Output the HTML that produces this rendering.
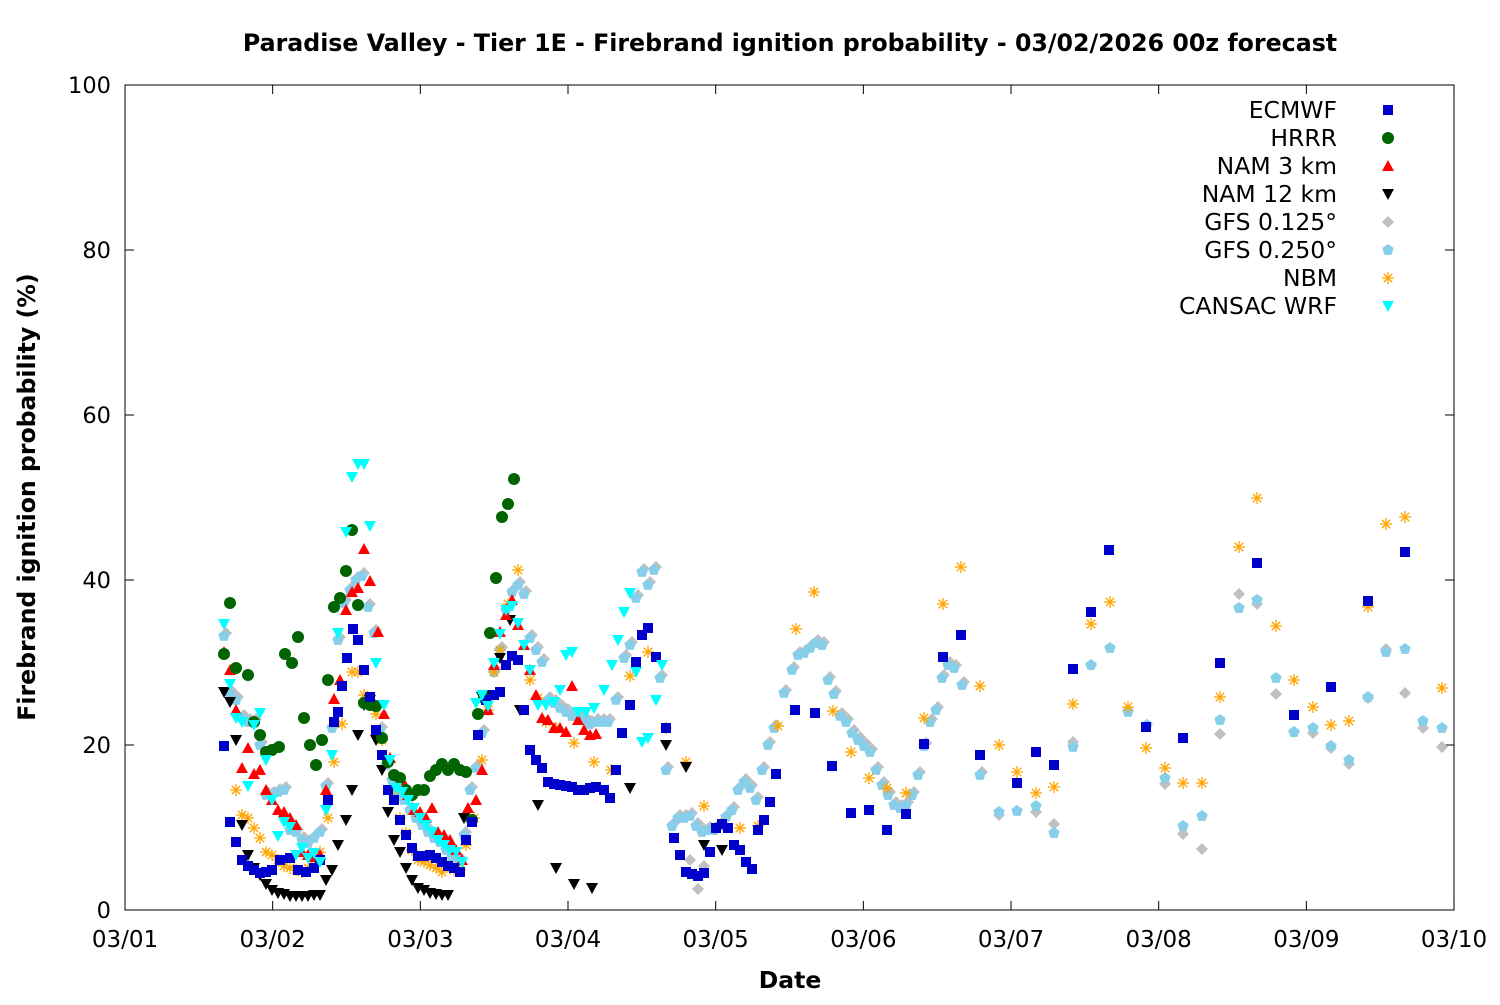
<!DOCTYPE html>
<html><head><meta charset="utf-8"><style>
html,body{margin:0;padding:0;background:#fff;}
svg text{font-family:"DejaVu Sans","Liberation Sans",sans-serif;}
</style></head><body>
<svg id="s" width="1500" height="1000" xmlns="http://www.w3.org/2000/svg">
<rect width="1500" height="1000" fill="#fff"/>
<text x="790" y="51" text-anchor="middle" font-size="23.7" font-weight="bold">Paradise Valley - Tier 1E - Firebrand ignition probability - 03/02/2026 00z forecast</text>
<text x="790" y="988" text-anchor="middle" font-size="23.5" font-weight="bold">Date</text>
<text transform="translate(35,497) rotate(-90)" text-anchor="middle" font-size="23.6" font-weight="bold">Firebrand ignition probability (%)</text>
<g id="axes"></g>
<g id="pts"></g>
<rect x="125" y="85" width="1329" height="825" fill="none" stroke="#000" stroke-width="1"/>
<g font-size="23.5" text-anchor="end">
<text x="1337" y="118">ECMWF</text>
<text x="1337" y="146">HRRR</text>
<text x="1337" y="174">NAM 3 km</text>
<text x="1337" y="202">NAM 12 km</text>
<text x="1337" y="230">GFS 0.125°</text>
<text x="1337" y="258">GFS 0.250°</text>
<text x="1337" y="286">NBM</text>
<text x="1337" y="314">CANSAC WRF</text>
</g>
</svg>
<script>
var NS="http://www.w3.org/2000/svg";
function el(t,a,p){var e=document.createElementNS(NS,t);for(var k in a)e.setAttribute(k,a[k]);(p||document.getElementById('pts')).appendChild(e);return e;}
var ax=document.getElementById('axes');
for(var i=0;i<=5;i++){var y=910-i*165;
el('line',{x1:125,y1:y,x2:134,y2:y,stroke:'#000'},ax);el('line',{x1:1454,y1:y,x2:1445,y2:y,stroke:'#000'},ax);
var t=el('text',{x:111,y:y+8,'text-anchor':'end','font-size':22.5},ax);t.textContent=String(i*20);}
for(var d=0;d<=9;d++){var x=125+d*147.67;
el('line',{x1:x,y1:910,x2:x,y2:901,stroke:'#000'},ax);el('line',{x1:x,y1:85,x2:x,y2:94,stroke:'#000'},ax);
var t=el('text',{x:x,y:947,'text-anchor':'middle','font-size':23},ax);t.textContent='03/'+(d<9?'0':'')+(d+1);}
function sq(x,y,c){el('rect',{x:x-5,y:y-5,width:10,height:10,fill:c});}
function ci(x,y,c){el('circle',{cx:x,cy:y,r:6,fill:c});}
function tu(x,y,c){el('polygon',{points:(x-6)+','+(y+5)+' '+(x+6)+','+(y+5)+' '+x+','+(y-6),fill:c});}
function td(x,y,c){el('polygon',{points:(x-6)+','+(y-5)+' '+(x+6)+','+(y-5)+' '+x+','+(y+6),fill:c});}
function di(x,y,c){el('polygon',{points:x+','+(y-6)+' '+(x+6)+','+y+' '+x+','+(y+6)+' '+(x-6)+','+y,fill:c});}
function pe(x,y,c){var s='';for(var k=0;k<5;k++){var a=-Math.PI/2+k*2*Math.PI/5;s+=(x+6*Math.cos(a)).toFixed(1)+','+(y+6*Math.sin(a)).toFixed(1)+' ';}el('polygon',{points:s,fill:c});}
function st(x,y,c){for(var a=0;a<4;a++){var an=a*Math.PI/4;var dx=6*Math.cos(an),dy=6*Math.sin(an);
el('line',{x1:x-dx,y1:y-dy,x2:x+dx,y2:y+dy,stroke:c,'stroke-width':1.3});}}
function P(s){var a=s.split(' ').map(Number),r=[];for(var i=0;i<a.length;i+=2)r.push([a[i],a[i+1]]);return r;}
var gfs25=P("224 636 230 694 236 700 242 718 248 722 254 722 260 745 266 795 272 795 278 792 284 790 290 830 296 832 302 840 308 843 314 838 320 832 326 786 332 728 338 640 344 603 350 590 356 580 362 576 368 607 374 633 380 730 386 765 392 780 398 792 404 800 410 810 416 818 422 825 428 832 434 838 440 842 446 850 452 857 458 860 464 835 470 790 476 768 482 733 488 700 494 672 500 650 506 610 512 592 518 585 524 594 530 638 536 650 542 662 548 700 554 703 560 708 566 712 572 716 578 718 584 720 590 724 596 722 602 722 608 722 616 700 624 658 630 645 636 598 642 572 648 585 654 570 660 678 666 770 672 826 678 818 684 818 690 816 696 826 702 832 708 830 714 830 720 826 726 817 732 810 738 790 744 782 750 788 756 800 762 770 768 745 774 728 784 693 792 670 798 655 804 653 810 648 816 643 822 645 828 680 834 694 840 716 846 722 852 733 858 740 864 746 870 752 876 770 882 785 888 795 894 805 900 808 906 805 912 795 918 775 924 746 930 722 936 710 942 678 948 665 954 668 962 685 980 775 999 812 1017 811 1036 806 1054 833 1073 747 1091 665 1110 648 1128 712 1147 725 1165 778 1183 826 1202 816 1220 720 1239 608 1257 600 1276 678 1294 732 1313 728 1331 746 1349 760 1368 697 1386 652 1405 649 1423 721 1442 728");
var gfs125=gfs25.filter(function(p){return p[0]<990;}).map(function(p){return [p[0]+2,p[1]-3];}).concat(P("698 889 690 860 704 866 999 815 1036 812 1054 824 1073 742 1091 665 1128 710 1165 784 1183 834 1202 849 1220 734 1239 594 1257 604 1276 694 1294 732 1313 733 1331 748 1349 764 1368 698 1386 649 1405 693 1423 728 1442 747"));
gfs125.forEach(function(p){di(p[0],p[1],'#c0c0c0');});
gfs25.forEach(function(p){pe(p[0],p[1],'#87ceeb');});
P("236 790 242 815 248 818 254 828 260 838 266 852 272 855 278 860 284 866 290 868 296 870 302 872 308 868 314 860 320 852 328 818 334 762 342 724 352 672 358 672 364 695 370 700 376 714 382 740 388 762 394 790 400 818 406 833 412 850 418 860 424 862 430 865 436 868 442 872 448 866 454 870 460 870 466 845 474 818 482 760 488 710 494 672 500 650 508 604 518 570 530 680 538 698 546 722 556 728 574 743 594 762 611 770 630 676 648 652 666 728 686 762 704 806 722 824 740 828 758 826 778 726 796 629 814 592 833 711 851 752 869 778 887 788 906 793 924 718 943 604 961 567 980 686 999 745 1017 772 1036 793 1054 787 1073 704 1091 624 1110 602 1128 707 1146 748 1165 768 1183 783 1202 783 1220 697 1239 547 1257 498 1276 626 1294 680 1313 707 1331 725 1349 721 1368 607 1386 524 1405 517 1442 688").forEach(function(p){st(p[0],p[1],'#ffa500');});
P("224 692 230 702 236 740 242 825 248 855 254 868 260 875 266 884 272 890 278 893 284 894 290 896 296 896 302 896 308 896 314 895 320 895 326 880 332 870 338 845 346 820 352 790 358 735 364 705 370 700 376 740 382 770 388 812 394 840 400 852 406 868 412 880 418 888 424 890 430 893 436 894 442 895 448 895 464 818 482 697 490 695 500 658 510 620 520 710 538 805 556 868 574 884 592 888 630 788 666 745 686 767 704 845 722 850").forEach(function(p){td(p[0],p[1],'#000');});
P("224 652 230 670 236 710 242 768 248 748 254 774 260 770 266 790 272 800 278 810 284 812 290 818 296 825 302 852 308 855 314 857 320 855 326 790 334 699 340 680 346 610 352 592 358 588 364 549 370 581 378 632 384 714 390 758 396 775 402 780 408 795 414 810 420 812 426 818 432 808 438 832 444 835 450 840 456 850 462 860 468 808 476 800 482 770 488 710 494 665 500 632 506 615 512 600 518 625 524 645 530 670 536 695 542 718 548 720 554 728 560 728 566 732 572 686 578 720 584 730 590 735 596 734").forEach(function(p){tu(p[0],p[1],'#ff0000');});
P("224 654 230 603 236 668 248 675 254 722 260 735 266 752 272 750 279 747 285 654 292 663 298 637 304 718 310 745 316 765 322 740 328 680 334 607 340 598 346 571 352 530 358 605 364 703 370 705 376 706 382 738 388 762 394 775 400 778 406 790 412 795 418 790 424 790 430 776 436 770 442 764 448 770 454 764 460 770 466 772 472 820 478 714 484 698 490 633 496 578 502 517 508 504 514 479").forEach(function(p){ci(p[0],p[1],'#006400');});
P("224 746 230 822 236 842 242 860 248 866 254 870 260 873 266 872 272 870 280 860 290 858 298 870 306 872 314 868 320 860 328 800 334 722 338 712 342 686 347 658 353 629 358 640 364 670 370 697 376 730 382 755 388 790 394 800 400 820 406 835 412 848 418 856 424 856 430 855 436 858 442 862 448 866 454 868 460 872 466 840 472 822 478 735 486 700 494 695 500 692 506 665 512 656 518 660 524 710 530 750 536 760 542 768 548 782 554 784 560 785 566 786 572 787 578 790 584 790 590 788 596 787 604 790 610 798 616 770 622 733 630 705 636 662 642 635 648 628 656 657 666 728 674 838 680 855 686 872 692 874 698 876 704 873 710 852 716 828 722 824 728 828 734 845 740 850 746 862 752 869 758 830 764 820 770 802 776 774 795 710 815 713 832 766 851 813 869 810 887 830 906 814 924 744 943 657 961 635 980 755 1017 783 1036 752 1054 765 1073 669 1091 612 1109 550 1146 727 1183 738 1220 663 1257 563 1294 715 1331 687 1368 601 1405 552").forEach(function(p){sq(p[0],p[1],'#0000cd');});
P("224 624 230 684 236 718 242 722 248 786 254 725 260 713 266 760 272 800 278 836 284 822 290 827 296 855 302 848 308 858 314 853 320 862 326 810 332 755 338 633 346 532 352 477 358 464 364 464 370 526 376 663 384 705 390 760 396 788 402 792 408 800 414 808 420 818 426 825 432 832 438 840 444 845 450 850 456 852 462 862 476 703 482 695 488 706 494 663 500 634 506 610 512 606 518 623 524 645 530 670 538 705 546 705 554 702 560 690 566 655 572 652 578 712 586 712 594 708 604 690 612 665 618 640 624 612 630 593 636 672 642 742 648 738 656 700 662 665").forEach(function(p){td(p[0],p[1],'#00ffff');});
sq(1388,110,'#0000cd');ci(1388,138,'#006400');tu(1388,166,'#ff0000');td(1388,194,'#000');di(1388,222,'#c0c0c0');pe(1388,250,'#87ceeb');st(1388,278,'#ffa500');td(1388,306,'#00ffff');
</script>
</body></html>
